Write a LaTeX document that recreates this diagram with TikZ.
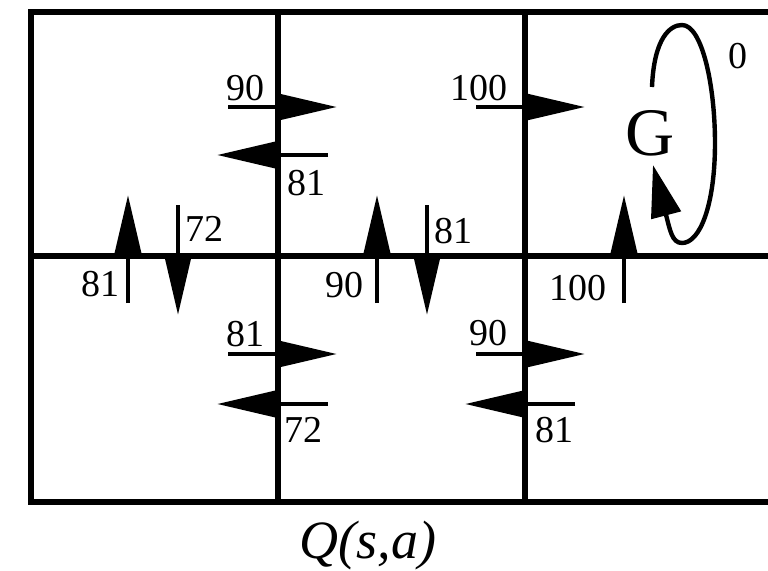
\documentclass[tikz,border=0pt]{standalone}
\usepackage{fontspec}
\setmainfont{Liberation Serif}
\usetikzlibrary{arrows.meta}

\begin{document}
\begin{tikzpicture}[
  x=0.5pt, y=-0.5pt,
  wall/.style={line width=2.6pt, line join=miter},
  qarr/.style={-{Triangle[length=29.5pt, width=13pt]}, line width=2.3pt},
  qval/.style={inner sep=0pt, font=\fontsize{19pt}{21pt}\selectfont},
  goal/.style={inner sep=0pt, font=\fontsize{34pt}{38pt}\selectfont},
  qcaption/.style={inner sep=0pt, anchor=base, font=\fontsize{27pt}{30pt}\selectfont\itshape}
]
  \useasboundingbox (0,0) rectangle (768,570);

  % Grid of states
  \draw[wall] (790,12) -- (31,12) -- (31,502) -- (790,502);
  \draw[wall] (31,256) -- (790,256);
  \foreach \x in {278,525}
    \draw[wall] (\x,12) -- (\x,502);

  % Actions: right, left, up, down
  \foreach[count=\i] \xa/\ya/\xb/\yb in {228/107/337/107, 476/107/585/107,
      228/354/337/354, 476/354/585/354,
      328/155/217/155, 328/404/217/404, 575/404/465/404,
      128/303/128/195, 377/303/377/195, 624/303/624/195,
      178/205/178/315, 427/205/427/315} {
    \coordinate (s\i) at (\xa,\ya);
    \coordinate (t\i) at (\xb,\yb);
    \draw[qarr] (s\i) -- (t\i);
  }

  % Q values
  \node[qval] (q1) at (246,88) {90};
  \node[qval] (q2) at (479,88) {100};
  \node[qval] (q3) at (306,183) {81};
  \node[qval] (q4) at (101,284) {81};
  \node[qval] (q5) at (204,229) {72};
  \node[qval] (q6) at (344,285) {90};
  \node[qval] (q7) at (454,231) {81};
  \node[qval] (q8) at (578,288) {100};
  \node[qval] (q9) at (246,334) {81};
  \node[qval] (q10) at (304,430) {72};
  \node[qval] (q11) at (488,333) {90};
  \node[qval] (q12) at (554,430) {81};
  \node[qval] (q13) at (738,56) {0};

  % Goal and its self loop
  \node[goal] (g) at (650,133) {G};
  \draw[line width=2.2pt, -{Triangle[length=26pt, width=15pt]}]
    (652,87) .. controls (654,38) and (670,25) .. (682,25)
    .. controls (702,25) and (715,85) .. (715,143)
    .. controls (715,205) and (700,243) .. (682,243)
    .. controls (672,243) and (670,230) .. (653,165);

  \node[qcaption] (caption) at (368,558) {Q(s,a)};
\end{tikzpicture}
\end{document}
